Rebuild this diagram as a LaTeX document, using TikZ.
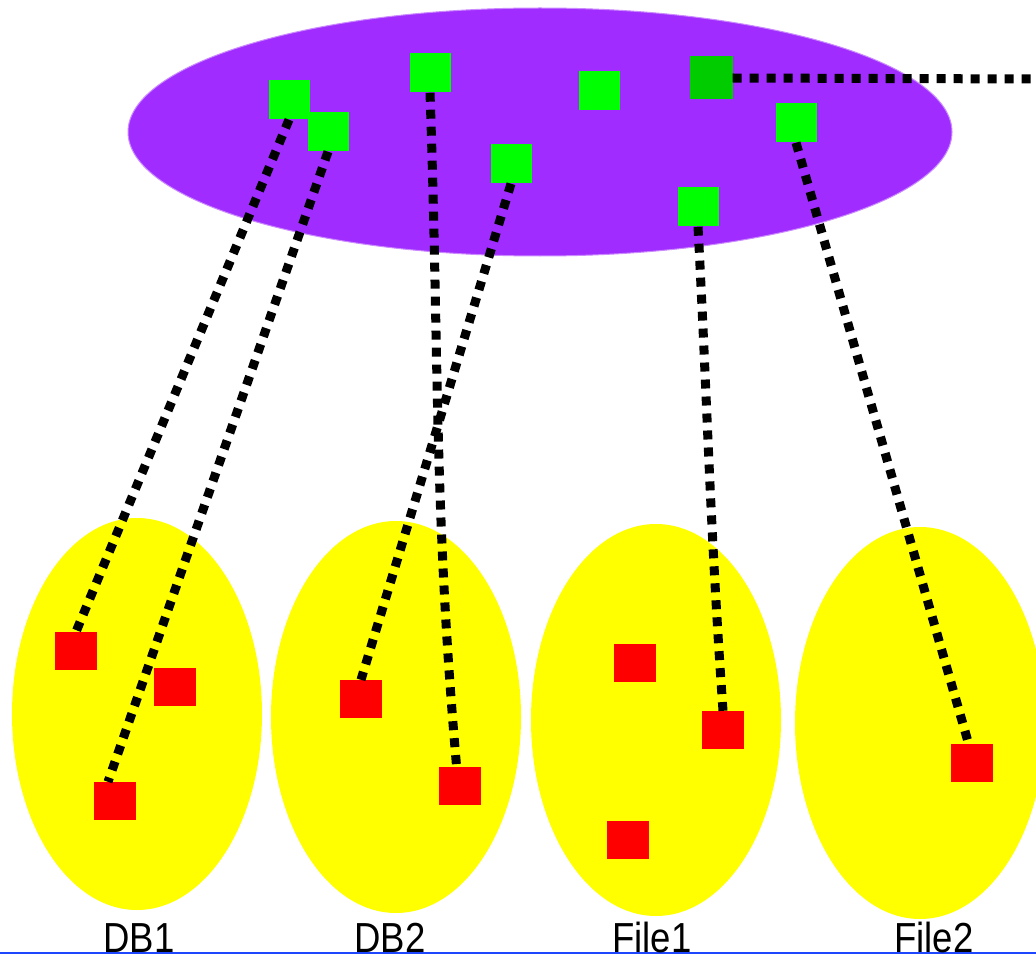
\documentclass[tikz,border=0pt]{standalone}
\usepackage{fontspec}
\setmainfont[FakeStretch=0.87]{Liberation Sans}

\definecolor{hubpurple}{RGB}{160,44,255}
\definecolor{keygreen}{RGB}{0,255,0}
\definecolor{keydark}{RGB}{0,204,0}
\definecolor{rowred}{RGB}{255,0,0}
\definecolor{storeyellow}{RGB}{255,255,0}
\definecolor{baseblue}{RGB}{30,70,255}

\begin{document}
\begin{tikzpicture}[x=1pt, y=-1pt,
    key/.style={fill=keygreen, minimum width=41pt, minimum height=39pt, inner sep=0pt},
    row/.style={fill=rowred, minimum width=42pt, minimum height=38pt, inner sep=0pt},
    link/.style={line width=9pt, dash pattern=on 9pt off 8pt},
    store/.style={font=\fontsize{42}{42}\selectfont, anchor=base, inner sep=0pt, text depth=0pt}]

    \clip (0,0) rectangle (1036,960);

    % mediated schema and the four sources
    \filldraw[fill=hubpurple, draw=hubpurple!55!white, line width=1pt]
        (540,132) ellipse (412 and 124);
    \foreach \cx/\cy in {137/714, 396/717, 656/720, 920/723}
        \fill[storeyellow] (\cx,\cy) ellipse (125 and 196);

    \node[key] (k1) at (289,100) {};
    \node[key] (k2) at (328,132) {};
    \node[key] (k3) at (430,73) {};
    \node[key] (k4) at (599,91) {};
    \node[key, fill=keydark, minimum width=43pt, minimum height=43pt] (k5) at (711,78) {};
    \node[key] (k6) at (511,164) {};
    \node[key] (k7) at (796,123) {};
    \node[key] (k8) at (698,207) {};

    \node[row] (r1) at (76,651) {};
    \node[row] (r2) at (175,687) {};
    \node[row] (r3) at (115,801) {};
    \node[row] (r4) at (361,699) {};
    \node[row] (r5) at (460,786) {};
    \node[row] (r6) at (635,663) {};
    \node[row] (r7) at (723,730) {};
    \node[row] (r8) at (628,840) {};
    \node[row] (r9) at (972,763) {};

    \coordinate (out) at (1036,79);

    \draw[link] (k1.south) -- (r1.north);
    \draw[link] (k2.south) -- (r3.110);
    \draw[link] (k3.south) to[out=-88, in=95] (r5.100);
    \draw[link] (k6.south) -- (r4.north);
    \draw[link] (k8.south) to[out=-87, in=94] (r7.north);
    \draw[link] (k7.south) -- (r9.100);
    \draw[link] (k5.east) -- (out);

    \draw[baseblue, line width=2.5pt] (0,953) -- (1036,953);

    \node[store] (db1) at (139,952) {DB1};
    \node[store] (db2) at (390,952) {DB2};
    \node[store] (file1) at (652,952) {File1};
    \node[store] (file2) at (934,952) {File2};
\end{tikzpicture}
\end{document}
